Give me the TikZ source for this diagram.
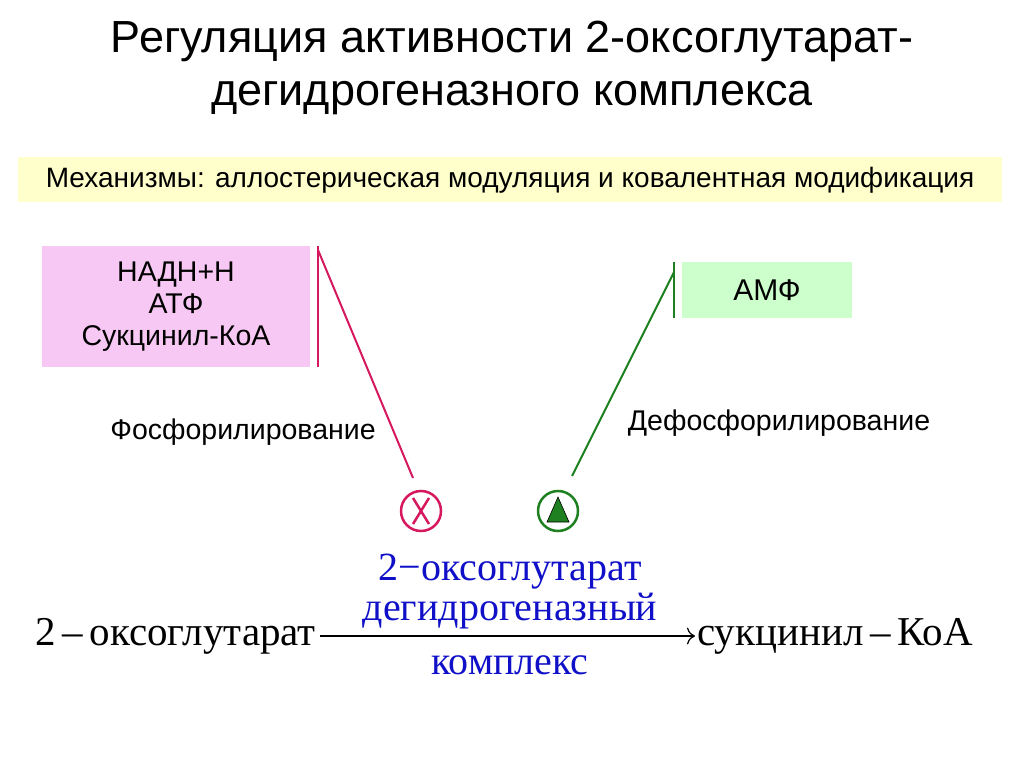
\documentclass[tikz,border=0pt]{standalone}
\usepackage{fontspec}
\usetikzlibrary{arrows.meta}
\setmainfont{Liberation Sans}
\newfontfamily\serif{Liberation Serif}
\definecolor{crim}{HTML}{D6185E}
\definecolor{grn}{HTML}{1E8020}
\definecolor{pinkbg}{HTML}{F8C8F4}
\definecolor{greenbg}{HTML}{CCFFCC}
\definecolor{yel}{HTML}{FFFFCC}
\definecolor{blu}{HTML}{1010C8}
\begin{document}
\begin{tikzpicture}[x=1pt,y=-1pt,
  lbl/.style={inner sep=0pt,font=\fontsize{28.5}{32}\selectfont},
  rx/.style={inner sep=0pt,font=\serif\fontsize{41}{46}\selectfont}]
\useasboundingbox (0,0) rectangle (1024,767);
\fill[white] (0,0) rectangle (1024,767);
\node[inner sep=0pt,align=center,font=\fontsize{45}{53}\selectfont] (title) at (512,68) {Регуляция активности 2-оксоглутарат-\\дегидрогеназного комплекса};
\node[fill=yel,minimum width=984pt,minimum height=45pt,inner sep=0pt,font=\fontsize{28}{30}\selectfont] (mech) at (510,180) {Механизмы: аллостерическая модуляция и ковалентная модификация};
\node[fill=pinkbg,minimum width=268pt,minimum height=121pt,inner sep=0pt,align=center,font=\fontsize{28.5}{32}\selectfont] (inh) at (176,306.5) {НАДН+Н\\АТФ\\Сукцинил-КоА};
\node[fill=greenbg,minimum width=170pt,minimum height=56pt,inner sep=0pt,font=\fontsize{30}{32}\selectfont] (act) at (767,290) {АМФ};
\draw[crim,line width=2.5pt] (318,246) -- (318,367);
\draw[grn,line width=2.5pt] (674,262) -- (674,318);
\coordinate (pb) at (318,250);
\coordinate (gb) at (674,272);
\node[circle,draw=crim,line width=2.5pt,minimum size=40pt,inner sep=0pt] (cx) at (421,511) {};
\draw[crim,line width=2.5pt] (cx.center)++(-8,-13) -- ++(16,26) (cx.center)++(8,-13) -- ++(-16,26);
\node[circle,draw=grn,line width=2.5pt,minimum size=40pt,inner sep=0pt] (ct) at (558,511) {};
\fill[grn,draw=black,line width=0.6pt] (558,497) -- (569,522) -- (547,522) -- cycle;
\draw[crim,line width=2pt] (pb) -- (413,478);
\draw[grn,line width=2pt] (gb) -- (572,476);
\node[lbl] (ph) at (243,432) {Фосфорилирование};
\node[lbl] (dph) at (779,423) {Дефосфорилирование};
\node[rx,anchor=east] (s) at (316,636) {2\,–\,оксоглутарат};
\node[rx,anchor=west] (p) at (697,636) {сукцинил\,–\,КоА};
\draw[line width=1.2pt,-{To[length=8pt]}] ([xshift=4pt]s.east) -- ([xshift=-2pt]p.west);
\node[rx,blu,align=center,font=\serif\fontsize{40}{40}\selectfont] (e1) at (510,592) {2−оксоглутарат\\дегидрогеназный};
\node[rx,blu,font=\serif\fontsize{40}{40}\selectfont] (e2) at (510,665) {комплекс};
\end{tikzpicture}
\end{document}
